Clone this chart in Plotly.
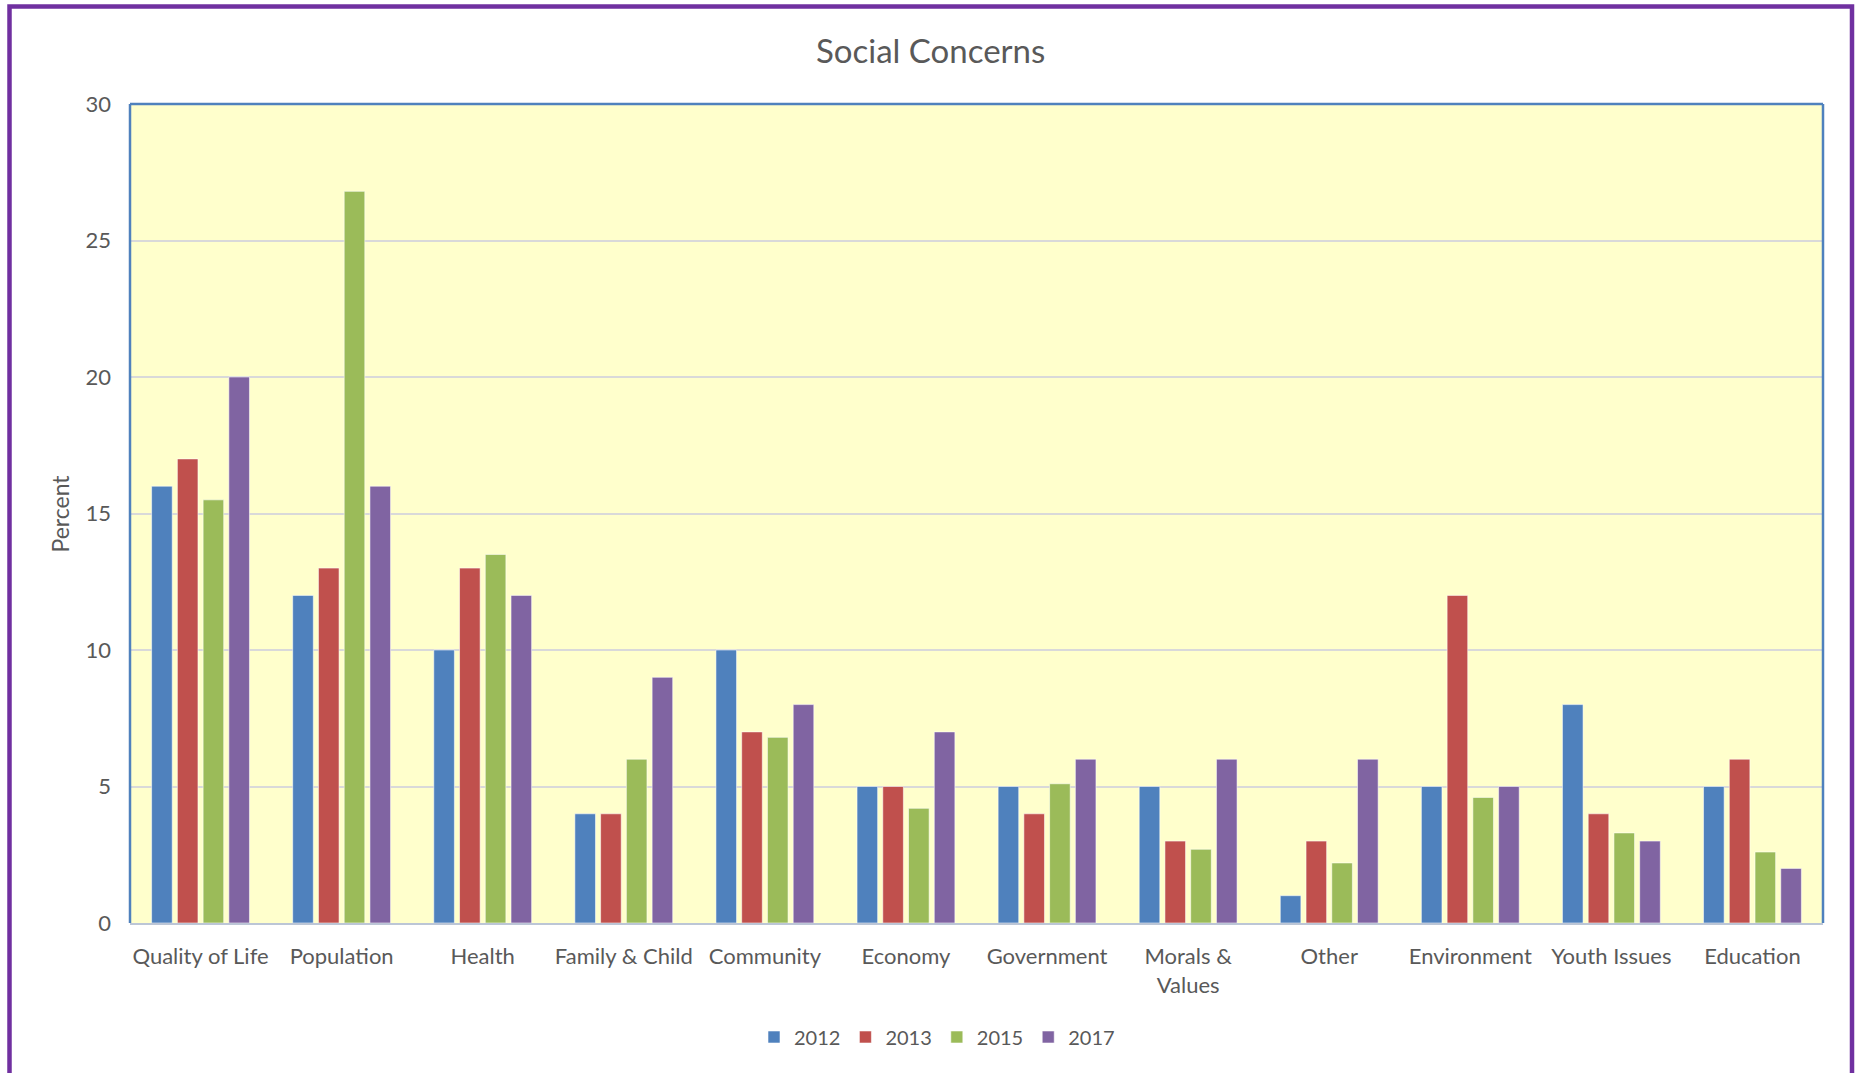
import plotly.graph_objects as go

categories = ["Quality of Life", "Population", "Health", "Family & Child", "Community",
              "Economy", "Government", "Morals &<br>Values", "Other", "Environment",
              "Youth Issues", "Education"]
v2012 = [16, 12, 10, 4, 10, 5, 5, 5, 1, 5, 8, 5]
v2013 = [17, 13, 13, 4, 7, 5, 4, 3, 3, 12, 4, 6]
v2015 = [15.5, 26.8, 13.5, 6, 6.8, 4.2, 5.1, 2.7, 2.2, 4.6, 3.3, 2.6]
v2017 = [20, 16, 12, 9, 8, 7, 6, 6, 6, 5, 3, 2]
series = [("2012", v2012, "#4F81BD"), ("2013", v2013, "#C0504D"),
          ("2015", v2015, "#9BBB59"), ("2017", v2017, "#8064A2")]
y_ticks = [0, 5, 10, 15, 20, 25, 30]

W, H = 1856, 1073
L, R, T, B = 130, 33, 104, 150
pw, ph = W - L - R, H - T - B
def px_x(x): return (x - L) / pw
def px_y(y): return (H - B - y) / ph

FONT = "Lato"
TXT = "#595959"

fig = go.Figure()
for name, vals, col in series:
    fig.add_trace(go.Bar(x=categories, y=vals, name=name,
                         marker=dict(color=col, line=dict(color="rgba(255,255,255,0.55)", width=1))))

fig.update_layout(
    width=W, height=H,
    margin=dict(l=L, r=R, t=T, b=B, autoexpand=False),
    paper_bgcolor="white", plot_bgcolor="#FFFFCC",
    barmode="group", bargap=0.27, bargroupgap=0.2,
    font=dict(family=FONT, size=21, color=TXT),
    showlegend=True,
    legend=dict(orientation="h", x=px_x(937), xanchor="center", y=px_y(1037), yanchor="middle",
                font=dict(size=20, color=TXT), itemwidth=30, tracegroupgap=0,
                bgcolor="rgba(0,0,0,0)"),
    xaxis=dict(showgrid=False, showline=True, linecolor="#BCC6D6", linewidth=2,
               tickangle=0, ticks="", ticklabelstandoff=13,
               tickfont=dict(size=22, color=TXT)),
    yaxis=dict(range=[0, 30], tickvals=y_ticks, showgrid=True, gridcolor="#D9D9D9", gridwidth=1.5,
               zeroline=False, showline=False, ticks="", ticklabelstandoff=18,
               tickfont=dict(size=22, color=TXT)),
)

fig.add_annotation(text="Social Concerns", xref="paper", yref="paper",
                   x=px_x(930), y=px_y(50), xanchor="center", yanchor="middle",
                   showarrow=False, font=dict(size=33, color=TXT, family=FONT))
fig.add_annotation(text="Percent", xref="paper", yref="paper",
                   x=px_x(59), y=0.5, xanchor="center", yanchor="middle", textangle=-90,
                   showarrow=False, font=dict(size=23, color=TXT, family=FONT))

# plot-area border (left, top, right)
blue = "#4F81BD"
for x0, y0, x1, y1 in [(0, 0, 0, 1), (0, 1, 1, 1), (1, 0, 1, 1)]:
    fig.add_shape(type="line", xref="paper", yref="paper", x0=x0, y0=y0, x1=x1, y1=y1,
                  line=dict(color=blue, width=2.5), layer="above")

# outer purple frame
fig.add_shape(type="rect", xref="paper", yref="paper",
              x0=px_x(9.5), x1=px_x(1852), y0=px_y(1090), y1=px_y(6.5),
              line=dict(color="#7030A0", width=4.5), fillcolor="rgba(0,0,0,0)", layer="above")

fig.write_html("out.html")
